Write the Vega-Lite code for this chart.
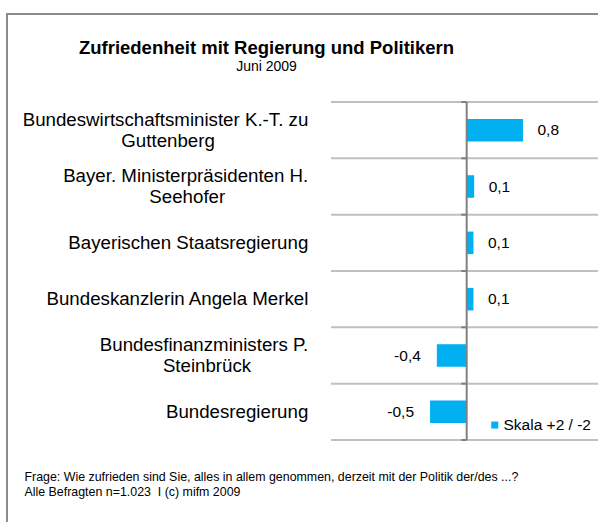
{
  "$schema": "https://vega.github.io/schema/vega-lite/v6.json",
  "width": 600,
  "height": 514,
  "autosize": {"type": "none"},
  "padding": {"left": 7, "top": 14, "right": -9, "bottom": -6},
  "background": "white",
  "config": {
    "font": "Liberation Sans",
    "view": {"stroke": "#8c8c8c", "strokeWidth": 2},
    "locale": {"number": {"decimal": ",", "thousands": ".", "grouping": [3], "currency": ["", " €"], "minus": "-"}}
  },
  "title": {
    "text": "Zufriedenheit mit Regierung und Politikern",
    "subtitle": "Juni 2009",
    "anchor": "middle",
    "dx": -40.5,
    "offset": -59.5,
    "fontSize": 18.5,
    "fontWeight": "bold",
    "color": "#000000",
    "subtitleFontSize": 14,
    "subtitleColor": "#000000",
    "subtitlePadding": 2.4,
    "font": "Liberation Sans",
    "subtitleFont": "Liberation Sans"
  },
  "data": {
    "values": [
      {"cat": "Bundeswirtschaftsminister K.-T. zu\nGuttenberg", "value": 0.83, "series": "Skala +2 / -2"},
      {"cat": "Bayer. Ministerpräsidenten H.\nSeehofer", "value": 0.11, "series": "Skala +2 / -2"},
      {"cat": "Bayerischen Staatsregierung", "value": 0.10, "series": "Skala +2 / -2"},
      {"cat": "Bundeskanzlerin Angela Merkel", "value": 0.10, "series": "Skala +2 / -2"},
      {"cat": "Bundesfinanzministers P.\nSteinbrück", "value": -0.44, "series": "Skala +2 / -2"},
      {"cat": "Bundesregierung", "value": -0.54, "series": "Skala +2 / -2"}
    ]
  },
  "layer": [
    {
      "mark": {"type": "rule", "color": "#c0c0c0", "strokeWidth": 2},
      "encoding": {
        "y": {"field": "cat", "type": "nominal", "sort": null, "bandPosition": -0.75, "axis": null},
        "x": {"datum": -2, "type": "quantitative"},
        "x2": {"datum": 2.068}
      }
    },
    {
      "transform": [{"filter": "datum.value === -0.54"}],
      "mark": {"type": "rule", "color": "#c0c0c0", "strokeWidth": 2},
      "encoding": {
        "y": {"field": "cat", "type": "nominal", "sort": null, "bandPosition": 1.75, "axis": null},
        "x": {"datum": -2, "type": "quantitative"},
        "x2": {"datum": 2.068}
      }
    },
    {
      "mark": {"type": "rule", "color": "#808080", "strokeWidth": 2},
      "encoding": {
        "y": {"field": "cat", "type": "nominal", "sort": null, "bandPosition": -0.75, "axis": null},
        "x": {"datum": -0.08, "type": "quantitative"},
        "x2": {"datum": 0}
      }
    },
    {
      "transform": [{"filter": "datum.value === -0.54"}],
      "mark": {"type": "rule", "color": "#808080", "strokeWidth": 2},
      "encoding": {
        "y": {"field": "cat", "type": "nominal", "sort": null, "bandPosition": 1.75, "axis": null},
        "x": {"datum": -0.08, "type": "quantitative"},
        "x2": {"datum": 0}
      }
    },
    {
      "mark": {"type": "bar", "color": "#00b0f0"},
      "encoding": {
        "y": {"field": "cat", "type": "nominal", "sort": null,
              "scale": {"range": [88, 426], "paddingInner": 0.6, "paddingOuter": 0.3},
              "axis": null},
        "x": {"field": "value", "type": "quantitative",
              "scale": {"domain": [-6.775, 2.068], "nice": false, "zero": false},
              "axis": {
                "title": ["Frage: Wie zufrieden sind Sie, alles in allem genommen, derzeit mit der Politik der/des ...?", "Alle Befragten n=1.023\u00a0 I (c) mifm 2009"],
                "labels": false, "ticks": false, "domain": false, "grid": false,
                "offset": -58, "titleX": 17, "titleAnchor": "start", "titleAlign": "left", "titleBaseline": "top",
                "titlePadding": 0, "titleFontSize": 12.4, "titleFontWeight": "normal", "titleLineHeight": 15,
                "titleColor": "#000000", "titleFont": "Liberation Sans"
              }},
        "x2": {"datum": 0},
        "color": {"field": "series", "type": "nominal",
                  "scale": {"range": ["#00b0f0"]},
                  "legend": {"title": null, "orient": "none", "legendX": 480, "legendY": 403.3,
                             "symbolType": "square", "symbolSize": 49, "symbolStrokeWidth": 0,
                             "labelFontSize": 15.5, "labelOffset": 1, "labelColor": "#000000", "padding": 0,
                             "labelFont": "Liberation Sans"}}
      }
    },
    {
      "mark": {"type": "rule", "color": "#808080", "strokeWidth": 2},
      "encoding": {
        "y": {"field": "cat", "type": "nominal", "sort": null, "bandPosition": -0.75, "axis": null},
        "y2": {"field": "cat", "bandPosition": 1.75},
        "x": {"datum": 0, "type": "quantitative"}
      }
    },
    {
      "mark": {"type": "text", "align": "right", "baseline": "middle", "dx": -22.7, "fontSize": 18.7,
               "lineHeight": 21, "color": "#000000", "font": "Liberation Sans",
               "dy": {"expr": "indexof(datum.cat, '\\n') < 0 ? 0 : -10.5"},
               "text": {"expr": "indexof(datum.cat, '\\n') < 0 ? datum.cat : [split(datum.cat, '\\n')[0], split(datum.cat, '\\n')[1] + substring('\u00a0\u00a0\u00a0\u00a0\u00a0\u00a0\u00a0\u00a0\u00a0\u00a0\u00a0\u00a0\u00a0\u00a0\u00a0\u00a0\u00a0\u00a0\u00a0\u00a0\u00a0\u00a0\u00a0\u00a0\u00a0\u00a0\u00a0\u00a0\u00a0\u00a0', 0, round((length(split(datum.cat, '\\n')[0]) - length(split(datum.cat, '\\n')[1])) * 0.76)) + '\u200b']"}},
      "encoding": {
        "y": {"field": "cat", "type": "nominal", "sort": null, "axis": null},
        "x": {"datum": -2, "type": "quantitative"}
      }
    },
    {
      "transform": [{"filter": "datum.value >= 0"}],
      "mark": {"type": "text", "align": "left", "baseline": "middle", "dx": 14.5, "fontSize": 15.5, "color": "#000000"},
      "encoding": {
        "y": {"field": "cat", "type": "nominal", "sort": null, "axis": null},
        "x": {"field": "value", "type": "quantitative"},
        "text": {"field": "value", "type": "quantitative", "format": ".1f"}
      }
    },
    {
      "transform": [{"filter": "datum.value < 0"}],
      "mark": {"type": "text", "align": "right", "baseline": "middle", "dx": -16, "fontSize": 15.5, "color": "#000000"},
      "encoding": {
        "y": {"field": "cat", "type": "nominal", "sort": null, "axis": null},
        "x": {"field": "value", "type": "quantitative"},
        "text": {"field": "value", "type": "quantitative", "format": ".1f"}
      }
    }
  ]
}
